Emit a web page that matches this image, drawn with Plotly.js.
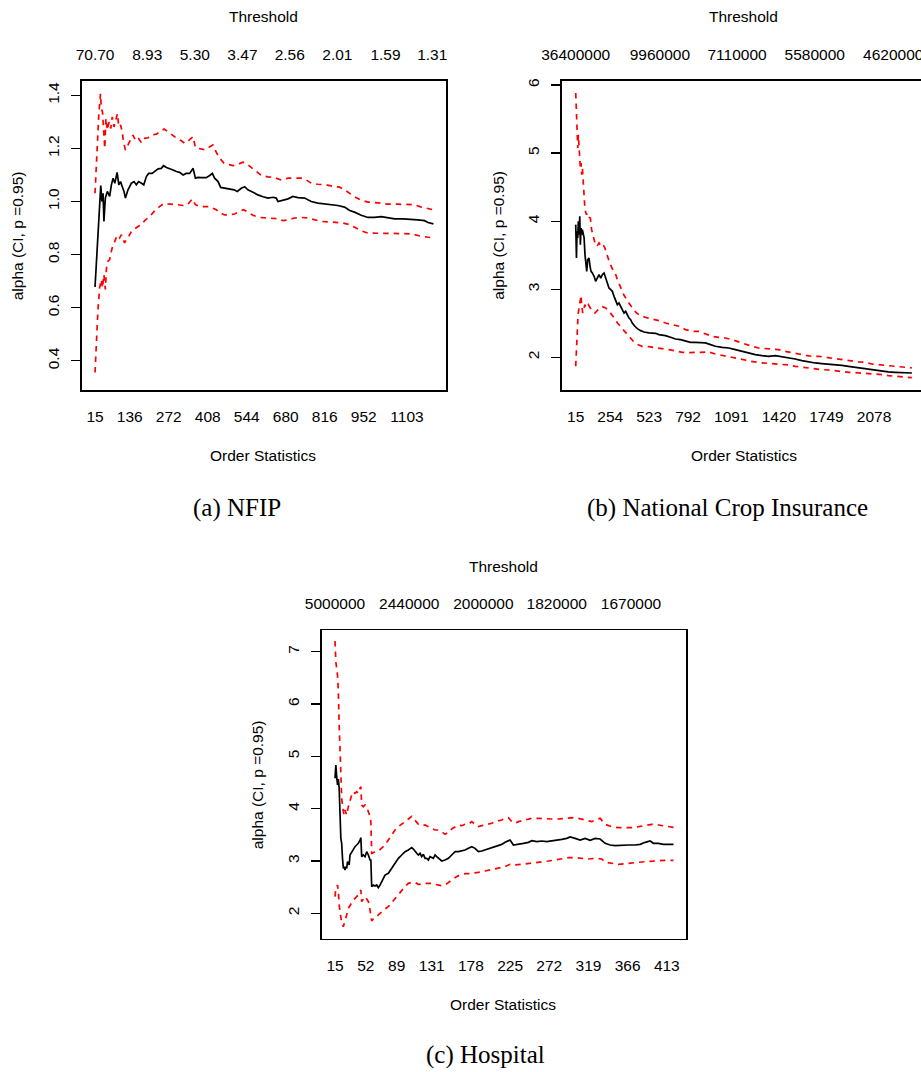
<!DOCTYPE html>
<html><head><meta charset="utf-8">
<script src="https://cdn.plot.ly/plotly-3.0.1.min.js"></script>
<style>html,body{margin:0;padding:0;background:#fff}</style>
</head><body>
<div id="chart" style="width:921px;height:1072px"></div>
<script>
// ---------- (a) NFIP ----------
const nfipK = [15,28,35,39,43,46,51,58,66,72,78,84,92,98,104,110,116,121,130,142,151,159,167,177,185,194,202,214,223,235,246,254,264,275,287,299,310,322,333,345,357,365,374,386,403,415,424,432,444,453,467,484,500,511,525,537,548,566,583,601,618,636,647,653,670,688,705,723,746,769,792,816,839,862,885,903,920,943,967,990,1013,1036,1060,1089,1118,1141,1164,1176,1195];
const nfipAlpha = [0.678,0.963,1.060,1.000,1.031,0.925,1.013,1.038,1.019,1.063,1.088,1.069,1.110,1.063,1.075,1.056,1.038,1.013,1.044,1.069,1.075,1.063,1.075,1.069,1.063,1.094,1.106,1.106,1.113,1.123,1.125,1.135,1.128,1.125,1.119,1.113,1.110,1.100,1.106,1.106,1.125,1.088,1.091,1.090,1.090,1.098,1.106,1.088,1.075,1.053,1.050,1.048,1.044,1.038,1.050,1.056,1.044,1.035,1.025,1.018,1.013,1.016,1.013,1.000,1.006,1.010,1.019,1.015,1.013,1.000,0.994,0.991,0.988,0.985,0.979,0.966,0.960,0.948,0.940,0.940,0.943,0.938,0.935,0.935,0.934,0.931,0.928,0.921,0.916];
const nfipUpperK = [15,23,28,34,37,41,44,49,53,58,64,70,75,81,87,93,98,104,110,114,121,130,139,147,156,165,177,188,200,211,229,246,256,269,281,293,304,316,328,343,357,365,380,397,415,426,438,450,465,479,496,513,531,543,560,577,595,618,641,665,688,711,734,752,769,792,821,850,868,885,903,920,943,967,1002,1036,1071,1106,1129,1153,1176,1195];
const nfipUpper = [1.031,1.250,1.325,1.406,1.350,1.338,1.288,1.200,1.313,1.269,1.300,1.275,1.319,1.281,1.306,1.331,1.281,1.288,1.263,1.225,1.194,1.213,1.238,1.250,1.231,1.240,1.221,1.238,1.240,1.250,1.254,1.265,1.273,1.263,1.253,1.244,1.235,1.229,1.219,1.231,1.244,1.203,1.198,1.195,1.206,1.213,1.185,1.163,1.144,1.141,1.135,1.140,1.148,1.143,1.128,1.113,1.098,1.093,1.090,1.081,1.088,1.088,1.088,1.081,1.069,1.065,1.063,1.056,1.054,1.044,1.031,1.018,1.005,0.998,0.995,0.990,0.990,0.990,0.988,0.979,0.973,0.969];
const nfipLowerK = [15,20,25,31,37,41,46,51,55,60,66,72,78,84,89,95,101,107,113,118,124,130,142,153,165,177,188,206,223,240,256,269,287,304,322,339,354,365,380,397,415,426,438,450,467,484,502,519,533,548,566,589,606,630,653,670,688,711,734,757,781,804,833,856,880,903,920,943,967,990,1013,1048,1083,1118,1153,1195];
const nfipLower = [0.356,0.488,0.588,0.675,0.706,0.675,0.725,0.669,0.750,0.775,0.781,0.813,0.838,0.850,0.865,0.873,0.863,0.875,0.856,0.844,0.856,0.863,0.888,0.898,0.906,0.913,0.928,0.944,0.965,0.981,0.993,0.991,0.990,0.988,0.985,0.990,1.010,0.988,0.981,0.981,0.981,0.975,0.969,0.956,0.950,0.950,0.953,0.963,0.969,0.960,0.948,0.940,0.938,0.938,0.935,0.928,0.931,0.938,0.940,0.938,0.931,0.925,0.923,0.920,0.919,0.913,0.903,0.890,0.881,0.880,0.880,0.880,0.879,0.878,0.869,0.863];
const nfipOrderTicks = [15,136,272,408,544,680,816,952,1103];
const nfipThreshPos = [15,197,363,529,694,860,1028,1191];
const nfipThreshText = ["70.70","8.93","5.30","3.47","2.56","2.01","1.59","1.31"];
const nfipYTicks = [0.4,0.6,0.8,1.0,1.2,1.4];

// ---------- (b) National Crop Insurance ----------
const cropK = [15,17,20,24,29,33,38,43,47,52,56,61,66,73,79,84,91,98,107,114,121,130,142,153,165,176,188,199,211,222,234,245,257,268,280,291,303,314,326,337,349,360,372,383,395,406,424,441,464,487,521,567,590,636,671,705,740,774,809,843,878,912,947,981,1027,1073,1119,1165,1211,1257,1303,1349,1395,1441,1487,1533,1579,1625,1671,1717,1763,1809,1855,1901,1947,1993,2039,2085,2131,2177,2223,2269,2340];
const cropAlpha = [3.949,3.557,3.459,3.851,3.753,3.998,3.802,4.071,3.655,3.900,3.802,3.875,3.802,3.753,3.508,3.361,3.263,3.435,3.459,3.337,3.263,3.239,3.190,3.116,3.165,3.214,3.165,3.214,3.239,3.165,3.068,3.019,2.994,2.970,2.896,2.847,2.774,2.798,2.749,2.700,2.651,2.676,2.617,2.578,2.553,2.504,2.456,2.421,2.392,2.372,2.358,2.353,2.333,2.318,2.294,2.269,2.260,2.235,2.220,2.220,2.220,2.211,2.186,2.162,2.147,2.137,2.113,2.088,2.064,2.039,2.025,2.015,2.025,2.010,1.990,1.976,1.951,1.932,1.917,1.907,1.902,1.892,1.883,1.868,1.853,1.844,1.819,1.804,1.795,1.785,1.780,1.775,1.770];
const cropUpperK = [15,20,24,29,33,38,43,47,52,56,61,68,75,79,89,98,107,116,125,135,148,162,176,190,204,217,234,250,268,286,303,326,349,372,395,418,441,464,498,544,590,636,682,728,774,820,866,912,958,1004,1050,1096,1142,1188,1234,1280,1326,1372,1418,1464,1510,1556,1602,1648,1694,1740,1786,1832,1878,1924,1970,2016,2062,2108,2154,2200,2246,2292,2340];
const cropUpper = [5.882,5.515,5.172,5.075,5.270,5.050,4.879,4.781,4.855,4.683,4.781,4.585,4.414,4.169,4.096,4.120,4.056,4.046,3.875,3.777,3.680,3.631,3.680,3.631,3.655,3.606,3.484,3.386,3.302,3.253,3.141,3.019,2.911,2.832,2.764,2.690,2.641,2.612,2.587,2.568,2.539,2.504,2.480,2.456,2.407,2.382,2.382,2.343,2.308,2.294,2.284,2.260,2.225,2.186,2.162,2.137,2.127,2.127,2.113,2.088,2.074,2.049,2.030,2.015,2.015,2.000,1.981,1.966,1.951,1.941,1.932,1.927,1.902,1.892,1.883,1.878,1.868,1.853,1.844];
const cropLowerK = [15,22,31,38,45,52,56,63,70,77,89,102,116,130,148,165,181,199,222,245,268,286,303,326,349,372,395,418,441,475,521,567,613,659,705,751,797,843,889,935,981,1027,1073,1119,1165,1211,1257,1303,1349,1395,1441,1487,1533,1579,1625,1671,1717,1763,1809,1855,1901,1947,1993,2039,2085,2131,2177,2223,2269,2340];
const cropLower = [1.868,2.235,2.627,2.725,2.823,2.911,2.774,2.651,2.676,2.774,2.725,2.774,2.725,2.676,2.651,2.686,2.725,2.744,2.725,2.676,2.617,2.568,2.504,2.456,2.392,2.333,2.284,2.225,2.191,2.162,2.157,2.147,2.127,2.113,2.088,2.074,2.069,2.074,2.083,2.078,2.049,2.030,2.015,1.995,1.971,1.946,1.927,1.917,1.912,1.907,1.902,1.887,1.868,1.853,1.839,1.829,1.819,1.814,1.799,1.790,1.780,1.775,1.770,1.765,1.760,1.746,1.731,1.721,1.711,1.701];
const cropOrderTicks = [15,254,523,792,1091,1420,1749,2078];
const cropThreshPos = [15,597,1131,1668,2211];
const cropThreshText = ["36400000","9960000","7110000","5580000","4620000"];
const cropYTicks = [2,3,4,5,6];

// ---------- (c) Hospital ----------
const hospK = [15,16,17,18,19,20,22,23,24,25,26,27,28,29,30,32,33,35,37,39,41,43,45,46,47,49,51,53,55,57,58,59,61,63,65,67,69,71,73,75,79,83,87,91,95,99,103,107,109,111,113,115,117,119,121,123,125,127,129,133,135,137,139,143,147,151,155,159,163,167,171,175,179,183,187,191,195,199,203,207,211,215,219,223,225,229,235,241,247,251,257,263,269,275,281,287,293,297,303,309,315,321,327,333,339,345,351,359,367,375,381,387,393,397,403,409,415,421];
const hospAlpha = [4.580,4.835,4.611,4.452,4.567,4.389,3.433,3.338,3.051,2.860,2.892,2.828,2.892,2.860,2.987,2.924,3.115,3.178,3.242,3.274,3.306,3.338,3.401,3.446,3.083,3.115,3.083,3.178,3.115,3.019,3.019,2.510,2.541,2.522,2.541,2.490,2.541,2.605,2.669,2.732,2.764,2.860,2.955,3.051,3.115,3.178,3.210,3.255,3.229,3.178,3.147,3.115,3.147,3.083,3.127,3.051,3.051,3.019,3.083,3.051,3.115,3.083,3.051,3.000,3.019,3.051,3.115,3.178,3.178,3.191,3.210,3.242,3.274,3.242,3.178,3.191,3.210,3.229,3.255,3.274,3.293,3.318,3.357,3.382,3.401,3.306,3.318,3.338,3.357,3.389,3.370,3.382,3.370,3.382,3.401,3.414,3.433,3.459,3.433,3.401,3.433,3.395,3.433,3.420,3.338,3.306,3.293,3.306,3.306,3.306,3.318,3.357,3.382,3.338,3.338,3.318,3.325,3.318];
const hospUpperK = [15,16,18,19,20,21,22,23,25,26,27,29,31,33,35,37,39,41,43,45,46,47,49,51,53,55,57,58,59,61,63,67,71,75,79,83,87,91,95,99,103,107,111,115,119,123,127,131,135,139,143,147,151,155,159,163,167,171,175,179,183,187,191,195,199,203,207,211,215,219,223,227,231,235,243,251,259,267,275,283,291,299,307,315,323,327,333,339,347,355,363,371,379,387,395,403,411,421];
const hospUpper = [7.204,6.809,6.554,6.236,5.599,5.089,4.643,4.197,3.943,3.879,3.975,3.879,4.038,4.166,4.261,4.325,4.293,4.325,4.293,4.389,4.420,4.070,4.038,4.070,4.038,3.943,3.847,3.752,3.147,3.159,3.178,3.191,3.242,3.306,3.401,3.497,3.592,3.656,3.701,3.752,3.803,3.854,3.784,3.701,3.675,3.688,3.656,3.624,3.592,3.592,3.561,3.510,3.548,3.612,3.656,3.688,3.675,3.701,3.701,3.752,3.701,3.656,3.675,3.688,3.701,3.720,3.752,3.765,3.784,3.815,3.828,3.752,3.720,3.752,3.784,3.815,3.815,3.803,3.803,3.803,3.815,3.828,3.815,3.784,3.752,3.784,3.815,3.701,3.656,3.637,3.637,3.637,3.656,3.675,3.701,3.688,3.669,3.643];
const hospLowerK = [15,16,18,19,20,22,23,25,27,29,31,33,35,37,39,41,43,45,46,47,49,51,53,55,57,58,59,61,63,67,71,75,79,83,87,91,95,99,103,107,111,115,119,123,127,131,135,139,143,147,151,155,159,163,167,171,175,179,187,195,203,211,219,225,231,239,247,255,263,271,279,287,295,303,311,319,327,335,339,347,355,363,371,379,387,395,403,411,421];
const hospLower = [2.319,2.478,2.541,2.414,2.159,1.968,1.809,1.745,1.841,1.968,2.096,2.159,2.223,2.255,2.287,2.319,2.350,2.414,2.446,2.223,2.287,2.319,2.274,2.223,2.064,1.968,1.854,1.892,1.905,1.968,2.032,2.083,2.128,2.204,2.287,2.363,2.446,2.510,2.573,2.592,2.592,2.554,2.554,2.573,2.573,2.573,2.554,2.541,2.529,2.541,2.592,2.637,2.682,2.720,2.745,2.758,2.758,2.764,2.784,2.809,2.835,2.860,2.892,2.936,2.924,2.936,2.949,2.975,2.975,3.000,3.019,3.038,3.064,3.064,3.051,3.038,3.051,3.038,2.975,2.949,2.936,2.949,2.955,2.975,2.987,3.000,3.013,3.013,3.013];
const hospOrderTicks = [15,52,89,131,178,225,272,319,366,413];
const hospThreshPos = [15,104,193,281,370];
const hospThreshText = ["5000000","2440000","2000000","1820000","1670000"];
const hospYTicks = [2,3,4,5,6,7];

const yTitle = "alpha (CI, p =0.95)";
const captions = ["(a) NFIP", "(b) National Crop Insurance", "(c) Hospital"];

// ---------- layout helpers ----------
const W = 921, H = 1072;
const fx = p => p / W;
const fy = p => 1 - p / H;
const SANS = '"Liberation Sans", Arial, Helvetica, sans-serif';
const SERIF = '"Liberation Serif", "Times New Roman", serif';
const RED = '#ff0000';
const DASH = '5.5px,5px';
const TF = {family: SANS, size: 15.5, color: '#000'};

function series(k, v, xa, ya, color, dashed) {
  return {x: k, y: v, xaxis: xa, yaxis: ya, type: 'scatter', mode: 'lines',
    line: {color: color, width: 1.7, dash: dashed ? DASH : 'solid'},
    hoverinfo: 'skip', showlegend: false};
}
function ghost(pos, xa, ya) {
  return {x: pos, y: pos.map(() => null), xaxis: xa, yaxis: ya, type: 'scatter',
    mode: 'lines', hoverinfo: 'skip', showlegend: false};
}
function bottomAxis(dom, range, ticks, anchor) {
  return {domain: dom, range: range, anchor: anchor, tickmode: 'array', tickvals: ticks,
    ticktext: ticks.map(String), ticks: '', showline: true, mirror: true, linecolor: '#000',
    linewidth: 1.6, showgrid: false, zeroline: false, tickfont: TF, ticklabelstandoff: 12,
    ticklabeloverflow: 'allow', fixedrange: true};
}
function topAxis(over, anchor, range, pos, text) {
  return {overlaying: over, anchor: anchor, side: 'top', range: range, tickmode: 'array',
    tickvals: pos, ticktext: text, ticks: '', showline: false, showgrid: false,
    zeroline: false, tickfont: TF, ticklabelstandoff: 17, ticklabeloverflow: 'allow',
    fixedrange: true};
}
function leftAxis(dom, range, ticks, anchor, mirror, fmt) {
  return {domain: dom, range: range, anchor: anchor, tickmode: 'array', tickvals: ticks,
    ticktext: ticks.map(t => t.toFixed(fmt)), ticks: 'outside', ticklen: 9, tickwidth: 1.3,
    tickcolor: '#000', showline: true, mirror: mirror, linecolor: '#000', linewidth: 1.6,
    showgrid: false, zeroline: false, tickangle: -90, tickfont: TF, ticklabelstandoff: 6,
    fixedrange: true};
}
function ann(text, x, y, extra) {
  return Object.assign({text: text, x: fx(x), y: fy(y), xref: 'paper', yref: 'paper',
    showarrow: false, xanchor: 'center', yanchor: 'middle', font: TF}, extra || {});
}

const rangeA = [-31.5, 1240], rangeB = [-82, 2403], rangeC = [-0.6, 436];

const data = [
  series(nfipK, nfipAlpha, 'x', 'y', '#000', false),
  series(nfipUpperK, nfipUpper, 'x', 'y', RED, true),
  series(nfipLowerK, nfipLower, 'x', 'y', RED, true),
  series(cropK, cropAlpha, 'x2', 'y2', '#000', false),
  series(cropUpperK, cropUpper, 'x2', 'y2', RED, true),
  series(cropLowerK, cropLower, 'x2', 'y2', RED, true),
  series(hospK, hospAlpha, 'x3', 'y3', '#000', false),
  series(hospUpperK, hospUpper, 'x3', 'y3', RED, true),
  series(hospLowerK, hospLower, 'x3', 'y3', RED, true),
  ghost(nfipThreshPos, 'x4', 'y'),
  ghost(cropThreshPos, 'x5', 'y2'),
  ghost(hospThreshPos, 'x6', 'y3')
];

const layout = {
  width: W, height: H, margin: {l: 0, r: 0, t: 0, b: 0, pad: 0},
  paper_bgcolor: '#fff', plot_bgcolor: '#fff', showlegend: false,
  font: TF,
  xaxis: bottomAxis([fx(81.7), fx(446.3)], rangeA, nfipOrderTicks, 'y'),
  yaxis: leftAxis([fy(390), fy(81)], [0.290, 1.454], nfipYTicks, 'x', true, 1),
  xaxis2: bottomAxis([fx(561.7), 1], rangeB, cropOrderTicks, 'y2'),
  yaxis2: leftAxis([fy(390), fy(81)], [1.520, 6.059], cropYTicks, 'x2', false, 0),
  xaxis3: bottomAxis([fx(322), fx(686)], rangeC, hospOrderTicks, 'y3'),
  yaxis3: leftAxis([fy(938.8), fy(630.3)], [1.513, 7.409], hospYTicks, 'x3', true, 0),
  xaxis4: topAxis('x', 'y', rangeA, nfipThreshPos, nfipThreshText),
  xaxis5: topAxis('x2', 'y2', rangeB, cropThreshPos, cropThreshText),
  xaxis6: topAxis('x3', 'y3', rangeC, hospThreshPos, hospThreshText),
  annotations: [
    ann('Threshold', 263.8, 16.8),
    ann('Threshold', 743.8, 16.8),
    ann('Threshold', 503.8, 566),
    ann('Order Statistics', 263.3, 455.5),
    ann('Order Statistics', 743.5, 455.5),
    ann('Order Statistics', 503.3, 1004.7),
    ann(yTitle, 17.8, 235.5, {textangle: -90}),
    ann(yTitle, 498.3, 235.5, {textangle: -90}),
    ann(yTitle, 257.8, 784.5, {textangle: -90}),
    ann(captions[0], 237, 508, {font: {family: SERIF, size: 25, color: '#000'}}),
    ann(captions[1], 727, 508, {font: {family: SERIF, size: 25, color: '#000'}}),
    ann(captions[2], 485, 1055, {font: {family: SERIF, size: 25, color: '#000'}})
  ]
};

Plotly.newPlot('chart', data, layout, {displayModeBar: false, staticPlot: true});
</script>
</body></html>
